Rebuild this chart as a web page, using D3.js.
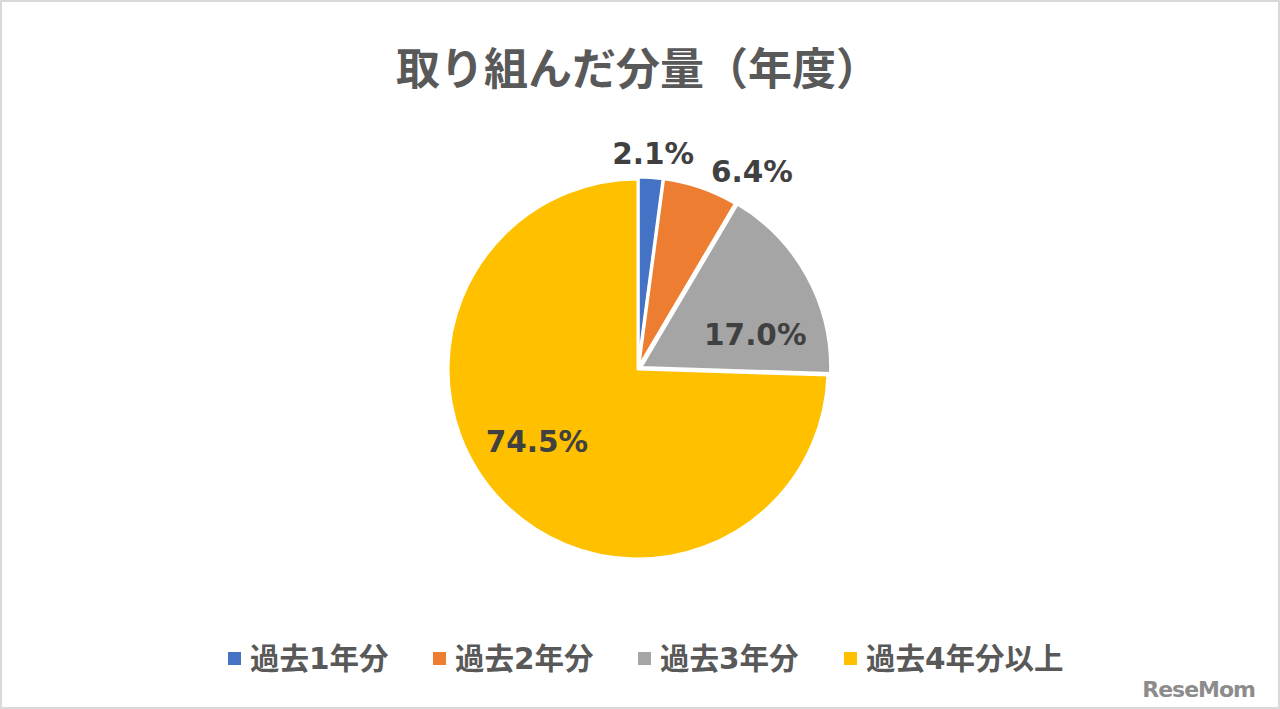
<!DOCTYPE html>
<html><head><meta charset="utf-8">
<script src="https://cdn.jsdelivr.net/npm/d3@7"></script>
<style>
html,body{margin:0;padding:0;background:#fff;}
svg{display:block;}
</style></head>
<body>
<svg id="chart" width="1280" height="709"></svg>
<script>
const title = "取り組んだ分量（年度）";
const categories = ["過去1年分", "過去2年分", "過去3年分", "過去4年分以上"];
const values = [2.1, 6.4, 17.0, 74.5];
const labels = ["2.1%", "6.4%", "17.0%", "74.5%"];
const colors = ["#4472C4", "#ED7D31", "#A5A5A5", "#FFC000"];

// layout (label polar placement, degrees clockwise from top, radius px)
const labelAngle = [4, 30, 74, 234];
const labelRadius = [216, 228, 122, 125];
const legendX = [228, 433, 638, 844];

const W = 1280, H = 709;
const svg = d3.select("#chart");
svg.append("rect").attr("x", 1).attr("y", 1).attr("width", W - 2).attr("height", H - 2)
  .attr("fill", "#fff").attr("stroke", "#d9d9d9").attr("stroke-width", 2);

svg.append("text").attr("x", 638).attr("y", 66)
  .attr("text-anchor", "middle").attr("dominant-baseline", "central")
  .attr("font-family", "'Noto Sans CJK JP', sans-serif").attr("font-weight", 700)
  .attr("font-size", 44).attr("fill", "#595959").text(title);

const cx = 638, cy = 369, R = 190;
const pie = d3.pie().sort(null).value(d => d)(values);
const arc = d3.arc().innerRadius(0).outerRadius(R);
const explode = [2, 2, 3, 0];
const g = svg.append("g").attr("transform", `translate(${cx},${cy})`);
g.selectAll("path").data(pie).join("path")
  .attr("d", arc).attr("fill", (d, i) => colors[i])
  .attr("transform", (d, i) => {
    const a = (d.startAngle + d.endAngle) / 2;
    return `translate(${explode[i] * Math.sin(a)},${-explode[i] * Math.cos(a)})`;
  })
  .attr("stroke", "#fff").attr("stroke-width", 3).attr("stroke-linejoin", "round");

g.selectAll("text.lbl").data(pie).join("text").attr("class", "lbl")
  .attr("x", (d, i) => labelRadius[i] * Math.sin(labelAngle[i] * Math.PI / 180))
  .attr("y", (d, i) => -labelRadius[i] * Math.cos(labelAngle[i] * Math.PI / 180))
  .attr("text-anchor", "middle").attr("dominant-baseline", "central")
  .attr("font-family", "'DejaVu Sans', sans-serif").attr("font-weight", 700)
  .attr("font-size", 29.5).attr("fill", "#404040")
  .text((d, i) => labels[i]);

const lg = svg.append("g");
categories.forEach((c, i) => {
  lg.append("rect").attr("x", legendX[i]).attr("y", 652).attr("width", 13).attr("height", 13)
    .attr("fill", colors[i]);
  lg.append("text").attr("x", legendX[i] + 22).attr("y", 659)
    .attr("dominant-baseline", "central")
    .attr("font-family", "'DejaVu Sans', 'Noto Sans CJK JP', sans-serif").attr("font-weight", 700)
    .attr("font-size", 29.5).attr("fill", "#595959").text(c);
});

svg.append("text").attr("x", 1255).attr("y", 697).attr("text-anchor", "end")
  .attr("font-family", "'DejaVu Sans', sans-serif").attr("font-weight", 700)
  .attr("font-size", 22).attr("fill", "#8c8c8c").attr("letter-spacing", -1).text("ReseMom");
</script>
</body></html>
